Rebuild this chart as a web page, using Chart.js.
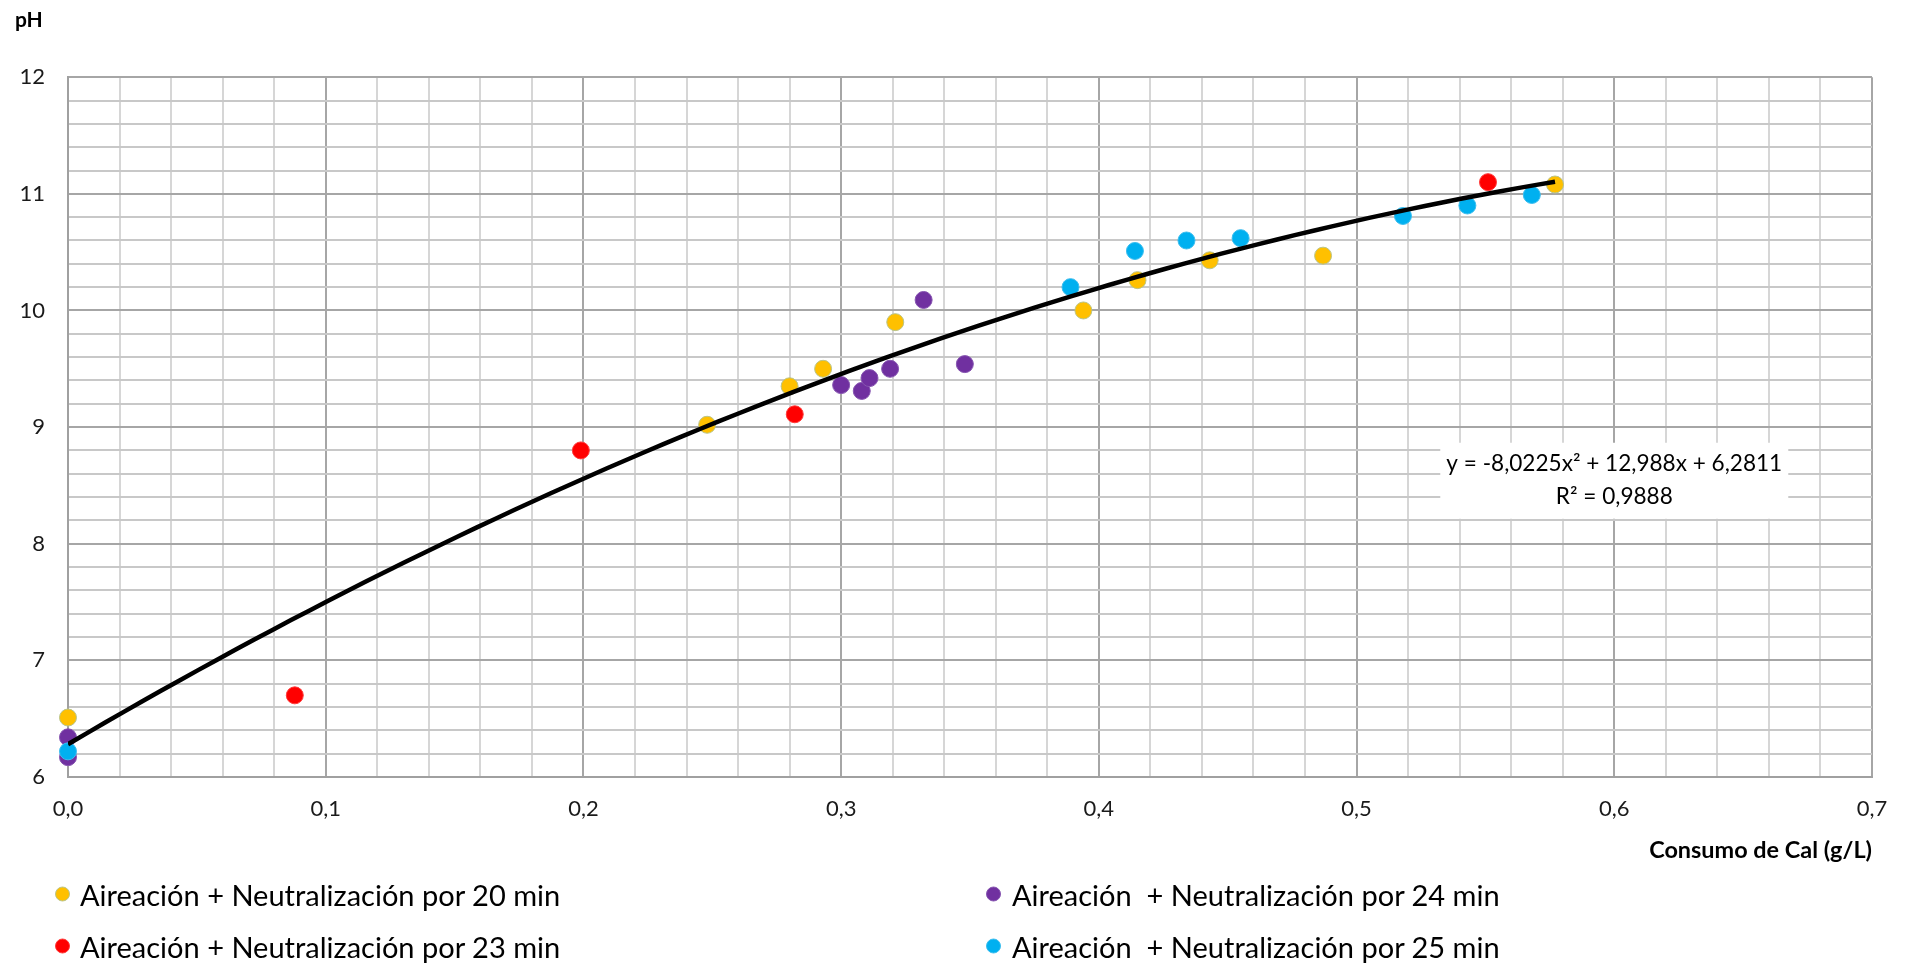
<!DOCTYPE html>
<html>
<head>
<meta charset="utf-8">
<script src="https://cdn.jsdelivr.net/npm/chart.js@4.4.1/dist/chart.umd.min.js"></script>
<style>
  html, body { margin: 0; padding: 0; background: #ffffff; }
  #wrap { position: relative; width: 1917px; height: 963px; }
  #c { position: absolute; left: 0; top: 0; }
  #legend { position: absolute; left: 0; top: 0; width: 1917px; height: 963px; pointer-events: none; font-family: Lato, "Liberation Sans", sans-serif; color: #000; }
  .li { position: absolute; display: flex; align-items: center; white-space: pre; transform: translateY(-50%); }
  .mk { width: 15px; height: 15px; border-radius: 50%; box-sizing: border-box; }
</style>
</head>
<body>
<div id="wrap">
  <canvas id="c" width="1917" height="963"></canvas>
  <div id="legend"></div>
</div>
<script>
// ---------- DATA ----------
const seriesLabels = [
  'Aireación + Neutralización por 20 min',
  'Aireación + Neutralización por 23 min',
  'Aireación  + Neutralización por 24 min',
  'Aireación  + Neutralización por 25 min'
];
const x20 = [0, 0.248, 0.280, 0.293, 0.321, 0.394, 0.415, 0.443, 0.487, 0.577];
const y20 = [6.51, 9.02, 9.35, 9.50, 9.90, 10.00, 10.26, 10.43, 10.47, 11.08];
const x23 = [0.088, 0.199, 0.282, 0.551];
const y23 = [6.70, 8.80, 9.11, 11.10];
const x24 = [0, 0, 0.300, 0.308, 0.311, 0.319, 0.332, 0.348];
const y24 = [6.34, 6.17, 9.36, 9.31, 9.42, 9.50, 10.09, 9.54];
const x25 = [0, 0.389, 0.414, 0.434, 0.455, 0.518, 0.543, 0.568];
const y25 = [6.22, 10.20, 10.51, 10.60, 10.62, 10.81, 10.90, 10.99];
// polynomial trend line shown on the chart: y = a x^2 + b x + c
const trendCoefficients = [-8.0225, 12.988, 6.2811];
const trendRange = [0, 0.577];
const equationLines = ['y = -8,0225x\u00B2 + 12,988x + 6,2811', 'R\u00B2 = 0,9888'];
const xTitle = 'Consumo de Cal (g/L)';
const yTitle = 'pH';
const xTickRange = [0, 0.7];
const yTickRange = [6, 12];

// ---------- helpers ----------
const FONT = 'Lato, "Liberation Sans", sans-serif';
const mctx = document.createElement('canvas').getContext('2d');
function fitSize(text, target, weight) {
  mctx.font = `${weight} 100px ${FONT}`;
  return 100 * target / mctx.measureText(text).width;
}
const zip = (xs, ys) => xs.map((x, i) => ({ x: x, y: ys[i] }));

const trendPoints = [];
{
  const n = 80;
  for (let i = 0; i <= n; i++) {
    const x = trendRange[0] + (trendRange[1] - trendRange[0]) * i / n;
    const [a, b, c] = trendCoefficients;
    trendPoints.push({ x: x, y: a * x * x + b * x + c });
  }
}

const colors = ['#FFC000', '#FF0000', '#7030A0', '#00B0F0'];
const borders = ['#b9c48a', '#ff3b3b', '#8655b0', '#3cbdee'];
const seriesData = [zip(x20, y20), zip(x23, y23), zip(x24, y24), zip(x25, y25)];

const isMajorX = v => Math.abs(v * 10 - Math.round(v * 10)) < 1e-6;
const isMajorY = v => Math.abs(v - Math.round(v)) < 1e-6;

const eqSize = fitSize(equationLines[0], 336, 'normal');
const xTitleSize = fitSize(xTitle, 223, 'bold');
const legendSize = fitSize(seriesLabels[0], 481, 'normal');

const eqPlugin = {
  id: 'eqBox',
  beforeDatasetsDraw(chart) {
    const { ctx, scales: { x, y } } = chart;
    const cx = x.getPixelForValue(0.6);
    const cy = y.getPixelForValue(8.54);
    ctx.save();
    ctx.fillStyle = '#ffffff';
    ctx.fillRect(cx - 174, cy - 38, 348, 76);
    ctx.fillStyle = '#000000';
    ctx.font = `normal ${eqSize}px ${FONT}`;
    ctx.textAlign = 'center';
    ctx.textBaseline = 'middle';
    ctx.fillText(equationLines[0], cx, cy - 17);
    ctx.fillText(equationLines[1], cx, cy + 16);
    ctx.restore();
  }
};

const datasets = [{
  type: 'line',
  label: 'trend',
  data: trendPoints,
  showLine: true,
  borderColor: '#000000',
  borderWidth: 4.5,
  pointRadius: 0,
  pointHoverRadius: 0,
  fill: false,
  tension: 0,
  order: 0
}];
// draw order: later series on top (as in the original)
[3, 2, 1, 0].forEach((i, k) => {
  datasets.push({
    label: seriesLabels[i],
    data: seriesData[i],
    backgroundColor: colors[i],
    borderColor: borders[i],
    borderWidth: 1,
    pointRadius: 8.5,
    pointHoverRadius: 8.5,
    clip: false,
    order: k + 1
  });
});

new Chart(document.getElementById('c'), {
  type: 'scatter',
  data: { datasets: datasets },
  plugins: [eqPlugin],
  options: {
    responsive: false,
    animation: false,
    events: [],
    layout: { padding: { left: 15, right: 45, top: 0, bottom: 91 } },
    plugins: {
      legend: { display: false },
      tooltip: { enabled: false },
      title: {
        display: true,
        text: yTitle,
        align: 'start',
        color: '#000000',
        font: { family: FONT, size: 21, weight: 'bold', lineHeight: 1.2 },
        padding: { top: 8, bottom: 44 }
      }
    },
    scales: {
      x: {
        type: 'linear',
        min: xTickRange[0],
        max: xTickRange[1],
        afterFit(scale) { scale.height = 95; scale.paddingLeft = 0; scale.paddingRight = 0; },
        ticks: {
          stepSize: 0.02,
          autoSkip: false,
          maxRotation: 0,
          minRotation: 0,
          padding: 19,
          color: '#1a1a1a',
          font: { family: FONT, size: 22 },
          callback: v => isMajorX(v) ? v.toFixed(1).replace('.', ',') : ''
        },
        grid: {
          drawTicks: false,
          lineWidth: 2,
          color: ctx => (ctx.tick && isMajorX(ctx.tick.value)) ? '#a6a6a6' : '#d6d6d6'
        },
        border: { display: true, color: '#a0a0a0', width: 2 },
        title: {
          display: true,
          text: xTitle,
          align: 'end',
          color: '#000000',
          font: { family: FONT, size: xTitleSize, weight: 'bold', lineHeight: 1.2 },
          padding: { top: 0, bottom: 7 }
        }
      },
      y: {
        type: 'linear',
        min: yTickRange[0],
        max: yTickRange[1],
        afterFit(scale) { scale.width = 53; scale.paddingTop = 0; scale.paddingBottom = 0; },
        ticks: {
          stepSize: 0.2,
          autoSkip: false,
          padding: 23,
          color: '#1a1a1a',
          font: { family: FONT, size: 22 },
          callback: v => isMajorY(v) ? String(Math.round(v)) : ''
        },
        grid: {
          drawTicks: false,
          lineWidth: 2,
          color: ctx => (ctx.tick && isMajorY(ctx.tick.value)) ? '#a6a6a6' : '#c8c8c8'
        },
        border: { display: true, color: '#a0a0a0', width: 2 }
      }
    }
  }
});

// ---------- HTML legend (two columns) ----------
const legend = document.getElementById('legend');
const legendSlots = [[55, 894, 80], [55, 946, 80], [986, 894, 1012], [986, 946, 1012]];
const legendOrder = [0, 1, 2, 3];
legendOrder.forEach((si, k) => {
  const [mx, cy, tx] = legendSlots[k];
  const item = document.createElement('div');
  item.className = 'li';
  item.style.left = mx + 'px';
  item.style.top = cy + 'px';
  item.style.fontSize = legendSize + 'px';
  const mk = document.createElement('span');
  mk.className = 'mk';
  mk.style.background = colors[si];
  mk.style.border = '1px solid ' + borders[si];
  mk.style.marginRight = (tx - mx - 15) + 'px';
  const tx_ = document.createElement('span');
  tx_.textContent = seriesLabels[si];
  item.appendChild(mk);
  item.appendChild(tx_);
  legend.appendChild(item);
});
</script>
</body>
</html>
